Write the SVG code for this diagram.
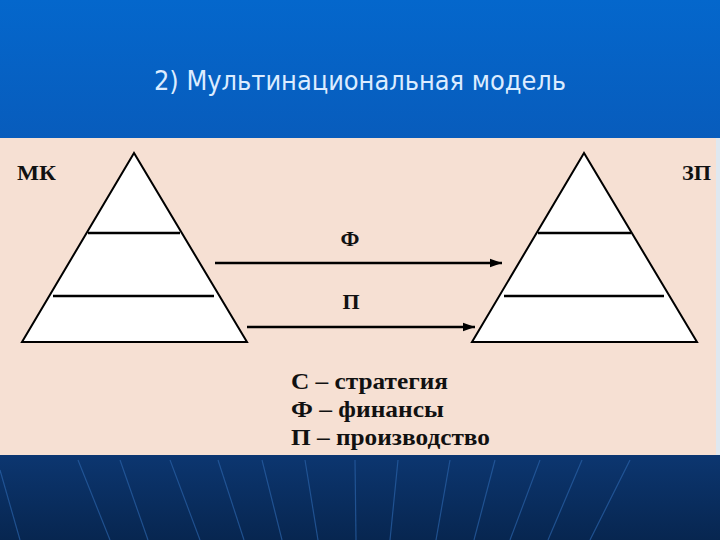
<svg xmlns="http://www.w3.org/2000/svg" width="720" height="540" viewBox="0 0 720 540">
<defs>
<linearGradient id="topbg" x1="0" y1="0" x2="0" y2="1">
<stop offset="0" stop-color="#0467cc"/>
<stop offset="1" stop-color="#085cbc"/>
</linearGradient>
<linearGradient id="botbg" x1="0" y1="0" x2="0" y2="1">
<stop offset="0" stop-color="#0c3670"/>
<stop offset="1" stop-color="#072650"/>
</linearGradient>
<marker id="arr" viewBox="0 0 10 10" refX="10" refY="5" markerWidth="5" markerHeight="5" orient="auto" markerUnits="strokeWidth">
<path d="M0,1.5 L10,5 L0,8.5 z" fill="#000"/>
</marker>
<style>
.tri{fill:#fff;stroke:#000;stroke-width:2}
.band{stroke:#000;stroke-width:2.5}
.lbl{font-family:"Liberation Serif","Times New Roman",serif;font-weight:bold;fill:#111}
.conn{stroke:#000;stroke-width:2.5;fill:none;marker-end:url(#arr)}
.ray{stroke:#2a62a8;stroke-width:1.2;opacity:0.7}
</style>
</defs>
<rect x="0" y="0" width="720" height="140" fill="url(#topbg)"/>
<rect x="0" y="455" width="720" height="85" fill="url(#botbg)"/>
<g id="rays">
<line class="ray" x1="78" y1="460" x2="110" y2="540"/>
<line class="ray" x1="120" y1="460" x2="148" y2="540"/>
<line class="ray" x1="170" y1="460" x2="200" y2="540"/>
<line class="ray" x1="218" y1="460" x2="244" y2="540"/>
<line class="ray" x1="262" y1="460" x2="282" y2="540"/>
<line class="ray" x1="305" y1="460" x2="318" y2="540"/>
<line class="ray" x1="355" y1="460" x2="356" y2="540"/>
<line class="ray" x1="398" y1="460" x2="390" y2="540"/>
<line class="ray" x1="450" y1="460" x2="436" y2="540"/>
<line class="ray" x1="495" y1="460" x2="474" y2="540"/>
<line class="ray" x1="540" y1="460" x2="510" y2="540"/>
<line class="ray" x1="582" y1="460" x2="548" y2="540"/>
<line class="ray" x1="630" y1="460" x2="590" y2="540"/>
<line class="ray" x1="0" y1="470" x2="20" y2="540"/>
</g>
<rect x="0" y="138" width="718" height="317" fill="#f6e0d3"/>
<rect x="716" y="138" width="4" height="317" fill="#dfe8f0"/>
<text x="360" y="90" text-anchor="middle" font-family="'DejaVu Sans Condensed','DejaVu Sans',sans-serif" font-size="27" fill="#dcecff" textLength="412" lengthAdjust="spacingAndGlyphs">2) Мультинациональная модель</text>
<g id="mk">
<polygon class="tri" points="134,153 22,342 247,342"/>
<line class="band" x1="88" y1="233" x2="180" y2="233"/>
<line class="band" x1="53" y1="296" x2="214" y2="296"/>
<text class="lbl" x="17" y="180" font-size="20" textLength="39" lengthAdjust="spacingAndGlyphs">МК</text>
</g>
<g id="zp">
<polygon class="tri" points="584,153 472,342 697,342"/>
<line class="band" x1="538" y1="233" x2="631" y2="233"/>
<line class="band" x1="504" y1="296" x2="664" y2="296"/>
<text class="lbl" x="682" y="180" font-size="20" textLength="29" lengthAdjust="spacingAndGlyphs">ЗП</text>
</g>
<g id="connectors">
<line class="conn" x1="215" y1="263" x2="502" y2="263"/>
<line class="conn" x1="247" y1="327" x2="475" y2="327"/>
<text class="lbl" x="350" y="246" font-size="22" text-anchor="middle">Ф</text>
<text class="lbl" x="351" y="309" font-size="22" text-anchor="middle">П</text>
</g>
<g id="legend">
<text class="lbl" x="291" y="389" font-size="24" textLength="157" lengthAdjust="spacingAndGlyphs">С – стратегия</text>
<text class="lbl" x="291" y="417" font-size="24" textLength="153" lengthAdjust="spacingAndGlyphs">Ф – финансы</text>
<text class="lbl" x="291" y="445" font-size="24" textLength="199" lengthAdjust="spacingAndGlyphs">П – производство</text>
</g>
</svg>
